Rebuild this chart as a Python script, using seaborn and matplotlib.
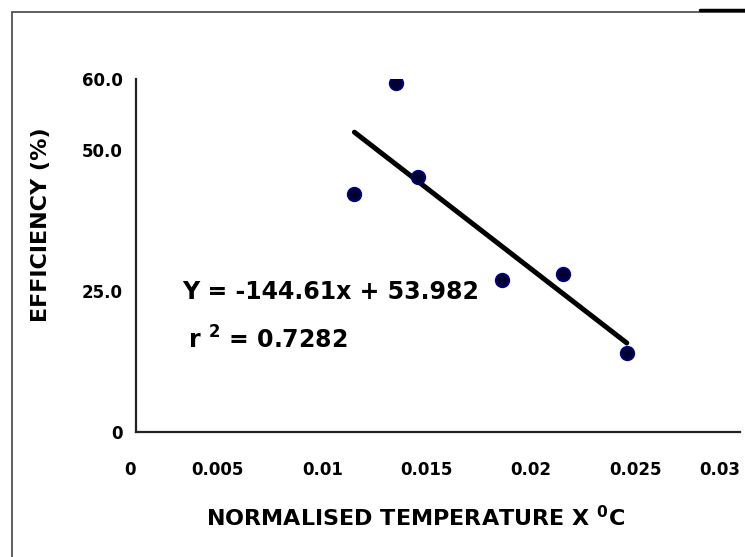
import numpy as np
import pandas as pd
import matplotlib
matplotlib.use("Agg")
import matplotlib.pyplot as plt
from matplotlib.lines import Line2D
from matplotlib.patches import Rectangle
import seaborn as sns

# values
temperature = [0.01154, 0.01355, 0.0146, 0.0186, 0.02153, 0.02458]
efficiency = [42.1, 61.9, 45.2, 26.9, 27.9, 13.9]
x_tick_labels = ['0', '0.005', '0.01', '0.015', '0.02', '0.025', '0.03']
y_tick_labels = ['0', '', '25.0', '', '50.0', '60.0']
equation_text = 'Y = -144.61x + 53.982'
r2_text = r'r $^{\mathbf{2}}$ = 0.7282'

sns.set_style('white')
plt.rcParams['font.family'] = ['DejaVu Sans']
plt.rcParams['mathtext.fontset'] = 'dejavusans'
plt.rcParams['text.color'] = 'black'
plt.rcParams['axes.labelcolor'] = 'black'
plt.rcParams['xtick.color'] = 'black'
plt.rcParams['ytick.color'] = 'black'

df = pd.DataFrame({'temp': temperature, 'eff': efficiency})

fig = plt.figure(figsize=(7.45, 5.57), dpi=100)
W, H = 745.0, 557.0
ax = fig.add_axes([135.7 / W, 1 - 431.7 / H, (740 - 135.7) / W, (431.7 - 79.3) / H])

sns.regplot(data=df, x='temp', y='eff', ax=ax, ci=None, truncate=True,
            scatter_kws={'s': 95, 'color': '#000030', 'edgecolors': '#00008b',
                         'linewidths': 1.3, 'alpha': 1, 'zorder': 3},
            line_kws={'color': 'black', 'linewidth': 3.6, 'zorder': 2})

# axis range: the reference's x axis starts just above zero
x_start = 0.00107
ax.set_xlim(x_start, 0.03)
ax.set_ylim(0, 62.5)
ax.set_xticks([x_start] + list(np.arange(0.005, 0.0301, 0.005)))
ax.set_xticklabels(x_tick_labels)
ax.set_yticks(np.arange(0, 62.6, 12.5))
ax.set_yticklabels(y_tick_labels)

for side in ['top', 'right']:
    ax.spines[side].set_visible(False)
for side in ['left', 'bottom']:
    ax.spines[side].set_color('#222222')
    ax.spines[side].set_linewidth(1.6)

ax.tick_params(axis='x', direction='out', length=4, width=1.4, color='#222222',
               pad=17, labelsize=12)
ax.tick_params(axis='y', direction='out', length=3.5, width=1.4, color='#222222',
               pad=6, labelsize=12)
for lab in ax.get_xticklabels() + ax.get_yticklabels():
    lab.set_fontweight('bold')
ax.get_xticklabels()[-1].set_horizontalalignment('right')
ax.get_xticklabels()[0].set_horizontalalignment('right')

ax.set_xlabel(r'NORMALISED TEMPERATURE X $^{\mathbf{0}}$C', fontsize=16,
              fontweight='bold', va='center')
ax.xaxis.set_label_coords(0.4638, -0.2449)
ax.set_ylabel('EFFICIENCY (%)', fontsize=16, fontweight='bold', va='center')
ax.yaxis.set_label_coords(-0.1567, 0.5866)

fig.text(181.7 / W, 1 - 291.7 / H, equation_text, fontsize=17,
         fontweight='bold', va='center', ha='left')
fig.text(188 / W, 1 - 340 / H, r2_text, fontsize=17,
         fontweight='bold', va='center', ha='left')

# chart-area border as in the reference
fig.add_artist(Rectangle((12 / W, -0.1), 1.2, 1.1 - 12 / H, transform=fig.transFigure,
                         fill=False, edgecolor='#444444', linewidth=1.2))
fig.add_artist(Line2D([700 / W, 1.0], [1 - 10 / H, 1 - 10 / H],
                      transform=fig.transFigure, color='black', linewidth=2.5))

fig.savefig('out.png', dpi=100)
